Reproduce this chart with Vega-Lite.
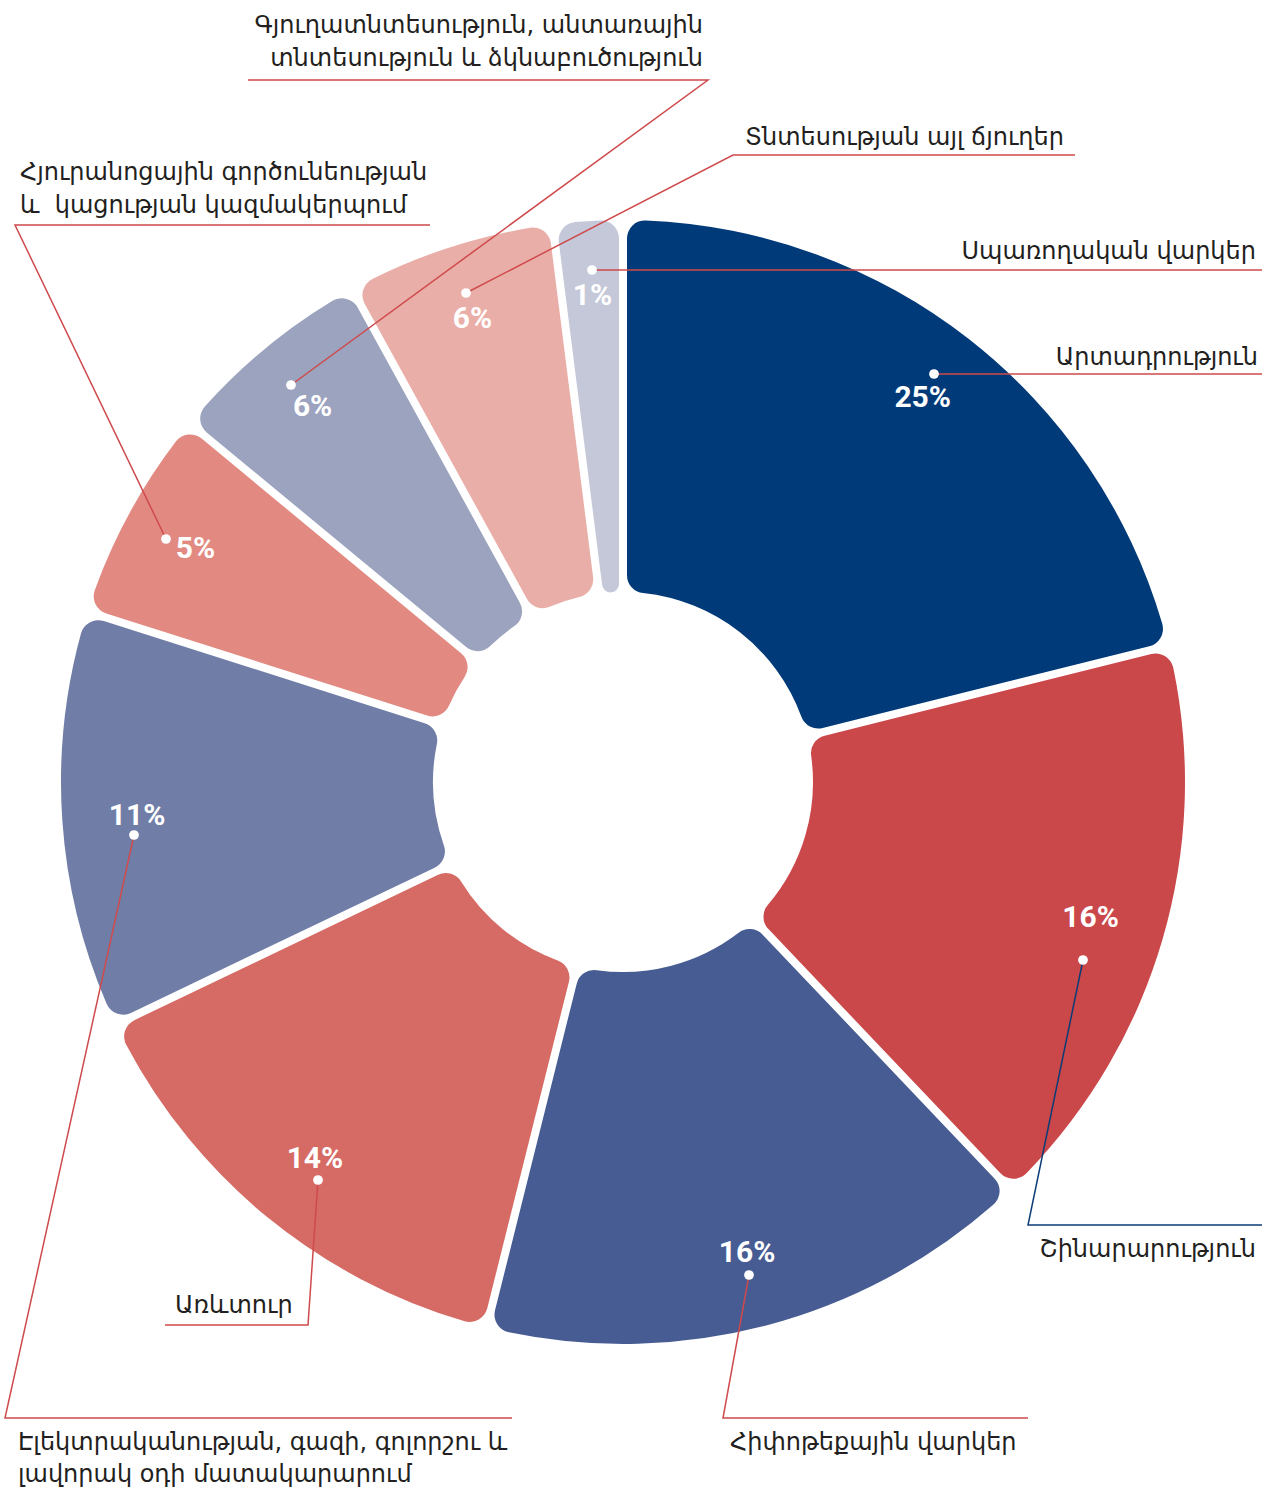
{
  "$schema": "https://vega.github.io/schema/vega-lite/v6.json",
  "width": 1272,
  "height": 1487,
  "autosize": {"type": "none"},
  "padding": 0,
  "background": "white",
  "config": {"view": {"stroke": null}},
  "datasets": {
    "slices": [
      {"rank": 1, "sector": "Արտադրություն", "share": 21.1, "label": "25%"},
      {"rank": 2, "sector": "Շինարարություն", "share": 16.8, "label": "16%"},
      {"rank": 3, "sector": "Հիփոթեքային վարկեր", "share": 16.0, "label": "16%"},
      {"rank": 4, "sector": "Առևտուր", "share": 14.0, "label": "14%"},
      {"rank": 5, "sector": "Էլեկտրականության, գազի, գոլորշու և լավորակ օդի մատակարարում", "share": 12.0, "label": "11%"},
      {"rank": 6, "sector": "Հյուրանոցային գործունեության և կացության կազմակերպում", "share": 6.1, "label": "5%"},
      {"rank": 7, "sector": "Գյուղատնտեսություն, անտառային տնտեսություն և ձկնաբուծություն", "share": 6.0, "label": "6%"},
      {"rank": 8, "sector": "Տնտեսության այլ ճյուղեր", "share": 6.0, "label": "6%"},
      {"rank": 9, "sector": "Սպառողական վարկեր", "share": 2.0, "label": "1%"}
    ],
    "leaders": [
      {"id": "prod", "i": 0, "x": 934, "y": 374},
      {"id": "prod", "i": 1, "x": 1262, "y": 374},
      {"id": "cons", "i": 0, "x": 592, "y": 270},
      {"id": "cons", "i": 1, "x": 1262, "y": 270},
      {"id": "other", "i": 0, "x": 466, "y": 293},
      {"id": "other", "i": 1, "x": 733, "y": 155},
      {"id": "other", "i": 2, "x": 1075, "y": 155},
      {"id": "agri", "i": 0, "x": 291, "y": 385},
      {"id": "agri", "i": 1, "x": 708, "y": 80},
      {"id": "agri", "i": 2, "x": 248, "y": 80},
      {"id": "hotel", "i": 0, "x": 166, "y": 539},
      {"id": "hotel", "i": 1, "x": 15, "y": 225},
      {"id": "hotel", "i": 2, "x": 430, "y": 225},
      {"id": "elec", "i": 0, "x": 134, "y": 835},
      {"id": "elec", "i": 1, "x": 5, "y": 1418},
      {"id": "elec", "i": 2, "x": 512, "y": 1418},
      {"id": "trade", "i": 0, "x": 318, "y": 1180},
      {"id": "trade", "i": 1, "x": 308, "y": 1325},
      {"id": "trade", "i": 2, "x": 165, "y": 1325},
      {"id": "mort", "i": 0, "x": 749, "y": 1275},
      {"id": "mort", "i": 1, "x": 723, "y": 1418},
      {"id": "mort", "i": 2, "x": 1028, "y": 1418},
      {"id": "constr", "i": 0, "x": 1083, "y": 960},
      {"id": "constr", "i": 1, "x": 1028, "y": 1225},
      {"id": "constr", "i": 2, "x": 1262, "y": 1225}
    ],
    "labels": [
      {"id": "agri", "text": "Գյուղատնտեսություն, անտառային", "x": 703, "y": 33},
      {"id": "agri", "text": "տնտեսություն և ձկնաբուծություն", "x": 703, "y": 66},
      {"id": "hotel", "text": "Հյուրանոցային գործունեության", "x": 20, "y": 180},
      {"id": "hotel", "text": "և\u00a0 կացության կազմակերպում", "x": 20, "y": 213},
      {"id": "other", "text": "Տնտեսության այլ ճյուղեր", "x": 745, "y": 145},
      {"id": "cons", "text": "Սպառողական վարկեր", "x": 1256, "y": 259},
      {"id": "prod", "text": "Արտադրություն", "x": 1258, "y": 365},
      {"id": "constr", "text": "Շինարարություն", "x": 1256, "y": 1257},
      {"id": "mort", "text": "Հիփոթեքային վարկեր", "x": 730, "y": 1450},
      {"id": "trade", "text": "Առևտուր", "x": 175, "y": 1313},
      {"id": "elec", "text": "Էլեկտրականության, գազի, գոլորշու և", "x": 18, "y": 1450},
      {"id": "elec", "text": "լավորակ օդի մատակարարում", "x": 18, "y": 1482}
    ]
  },
  "layer": [
    {
      "data": {"name": "slices"},
      "mark": {"type": "arc", "outerRadius": 562, "innerRadius": 190, "padAngle": 0.0135, "cornerRadius": 18},
      "encoding": {
        "x": {"datum": 623, "type": "quantitative", "scale": {"domain": [0, 1272]}, "axis": null},
        "y": {"datum": 782, "type": "quantitative", "scale": {"domain": [0, 1487], "reverse": true}, "axis": null},
        "theta": {"field": "share", "type": "quantitative", "stack": true},
        "order": {"field": "rank", "type": "quantitative"},
        "color": {
          "field": "sector", "type": "nominal", "legend": null,
          "scale": {
            "domain": ["Արտադրություն", "Շինարարություն", "Հիփոթեքային վարկեր", "Առևտուր", "Էլեկտրականության, գազի, գոլորշու և լավորակ օդի մատակարարում", "Հյուրանոցային գործունեության և կացության կազմակերպում", "Գյուղատնտեսություն, անտառային տնտեսություն և ձկնաբուծություն", "Տնտեսության այլ ճյուղեր", "Սպառողական վարկեր"],
            "range": ["#003a78", "#ca474a", "#465c92", "#d66a64", "#707ea7", "#e28a82", "#9ba3be", "#eaaea8", "#c4c8d8"]
          }
        }
      }
    },
    {
      "data": {"name": "slices"},
      "mark": {"type": "text", "radius": 487, "font": "Roboto", "fontWeight": "bold", "fontSize": 30, "fill": "white", "align": "center", "baseline": "middle"},
      "encoding": {
        "x": {"datum": 623, "type": "quantitative", "scale": {"domain": [0, 1272]}, "axis": null},
        "y": {"datum": 782, "type": "quantitative", "scale": {"domain": [0, 1487], "reverse": true}, "axis": null},
        "theta": {"field": "share", "type": "quantitative", "stack": true},
        "order": {"field": "rank", "type": "quantitative"},
        "detail": {"field": "sector", "type": "nominal"},
        "text": {"field": "label", "type": "nominal"}
      }
    },
    {
      "data": {"name": "leaders"},
      "mark": {"type": "line", "strokeWidth": 1.5, "interpolate": "linear"},
      "encoding": {
        "x": {"field": "x", "type": "quantitative", "scale": {"domain": [0, 1272]}, "axis": null},
        "y": {"field": "y", "type": "quantitative", "scale": {"domain": [0, 1487], "reverse": true}, "axis": null},
        "detail": {"field": "id", "type": "nominal"},
        "order": {"field": "i", "type": "quantitative"},
        "color": {"condition": {"test": "datum.id === 'constr'", "value": "#0b3c78"}, "value": "#cf4a4c"}
      }
    },
    {
      "data": {"name": "leaders"},
      "transform": [{"filter": "datum.i === 0"}],
      "mark": {"type": "point", "filled": true, "fill": "white", "opacity": 1, "size": 95, "strokeWidth": 0},
      "encoding": {
        "x": {"field": "x", "type": "quantitative", "scale": {"domain": [0, 1272]}, "axis": null},
        "y": {"field": "y", "type": "quantitative", "scale": {"domain": [0, 1487], "reverse": true}, "axis": null}
      }
    },
    {
      "data": {"name": "labels"},
      "transform": [{"filter": {"field": "id", "oneOf": ["agri", "cons", "prod", "constr"]}}],
      "mark": {"type": "text", "align": "right", "baseline": "alphabetic", "font": "DejaVu Sans", "fontSize": 24, "fill": "#231f20"},
      "encoding": {
        "x": {"field": "x", "type": "quantitative", "scale": {"domain": [0, 1272]}, "axis": null},
        "y": {"field": "y", "type": "quantitative", "scale": {"domain": [0, 1487], "reverse": true}, "axis": null},
        "text": {"field": "text", "type": "nominal"}
      }
    },
    {
      "data": {"name": "labels"},
      "transform": [{"filter": {"field": "id", "oneOf": ["hotel", "other", "mort", "trade", "elec"]}}],
      "mark": {"type": "text", "align": "left", "baseline": "alphabetic", "font": "DejaVu Sans", "fontSize": 24, "fill": "#231f20"},
      "encoding": {
        "x": {"field": "x", "type": "quantitative", "scale": {"domain": [0, 1272]}, "axis": null},
        "y": {"field": "y", "type": "quantitative", "scale": {"domain": [0, 1487], "reverse": true}, "axis": null},
        "text": {"field": "text", "type": "nominal"}
      }
    }
  ]
}
